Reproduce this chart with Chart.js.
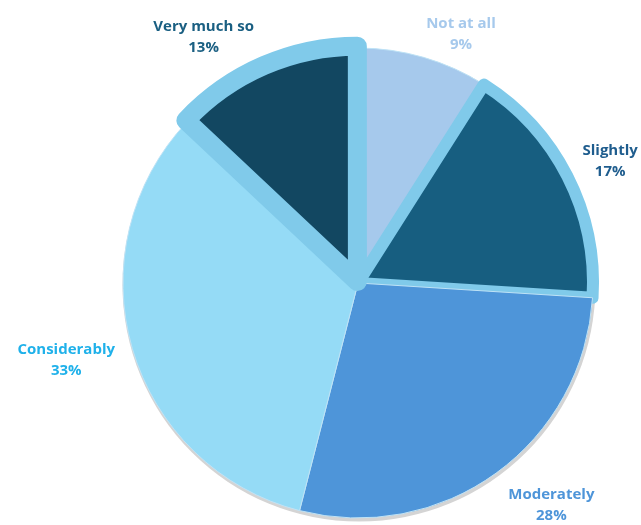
<!DOCTYPE html>
<html>
<head>
<meta charset="utf-8">
<script src="https://cdn.jsdelivr.net/npm/chart.js@4/dist/chart.umd.min.js"></script>
<style>
  html, body { margin: 0; padding: 0; background: #fff; }
  #wrap { width: 641px; height: 525px; }
</style>
</head>
<body>
<div id="wrap"><canvas id="pie_chart"></canvas></div>
<script>
// data
var labels = ['Not at all', 'Slightly', 'Moderately', 'Considerably', 'Very much so'];
var shares = [9, 17, 28, 33, 13];

var sliceColors = ['#a6c9ec', '#175e80', '#4e95d9', '#95dbf6', '#124761'];
var labelColors = ['#a6c9ec', '#1f5d8e', '#4e95d9', '#1fb1ea', '#1a5f82'];
var edgeColors = ['#bfe3f6', '#80caea', '#bfe3f6', '#bfe3f6', '#80caea'];
var edgeWidths = [1, 12, 1, 1, 19];
var offsets = [0, 0, 0, 0, 6];
// small label nudges (px) away from the plain radial spot
var labelNudge = [[24, 22], [0, 6], [27, -7], [-20, -2], [-42, 13]];

// gray shadow under the pie
var shadowPlugin = {
    id: 'pieShadow',
    beforeDatasetsDraw: function(chart) {
        var arc = chart.getDatasetMeta(0).data[0];
        if (!arc) return;
        var c = chart.ctx;
        c.save();
        c.beginPath();
        c.arc(arc.x + 1, arc.y + 2, arc.outerRadius + 1.5, 0, Math.PI * 2);
        c.fillStyle = '#d4d4d4';
        c.fill();
        c.restore();
    }
};

// labels outside each slice: name + percent
var outsideLabels = {
    id: 'outsideLabels',
    afterDatasetsDraw: function(chart) {
        var c = chart.ctx;
        var meta = chart.getDatasetMeta(0);
        c.save();
        c.font = 'bold 15px "Open Sans", sans-serif';
        c.textAlign = 'center';
        c.textBaseline = 'middle';
        meta.data.forEach(function(arc, i) {
            var mid = (arc.startAngle + arc.endAngle) / 2;
            var dist = arc.outerRadius + 48;
            var x = arc.x + Math.cos(mid) * dist + labelNudge[i][0];
            var y = arc.y + Math.sin(mid) * dist + labelNudge[i][1];
            c.fillStyle = labelColors[i];
            c.fillText(labels[i], x, y - 10);
            c.fillText(shares[i] + '%', x, y + 11);
        });
        c.restore();
    }
};

var ctx = document.getElementById('pie_chart');
var pieChart = new Chart(ctx, {
    type: 'pie',
    data: {
        labels: labels,
        datasets: [{
            data: shares,
            backgroundColor: sliceColors,
            borderColor: edgeColors,
            borderWidth: edgeWidths,
            hoverBorderWidth: edgeWidths,
            borderJoinStyle: 'round',
            offset: offsets,
            radius: 235
        }]
    },
    options: {
        responsive: true,
        maintainAspectRatio: false,
        animation: false,
        layout: {
            padding: { left: 75, right: 0, top: 41, bottom: 0 }
        },
        plugins: {
            legend: { display: false },
            tooltip: { enabled: false }
        }
    },
    plugins: [shadowPlugin, outsideLabels]
});
</script>
</body>
</html>
